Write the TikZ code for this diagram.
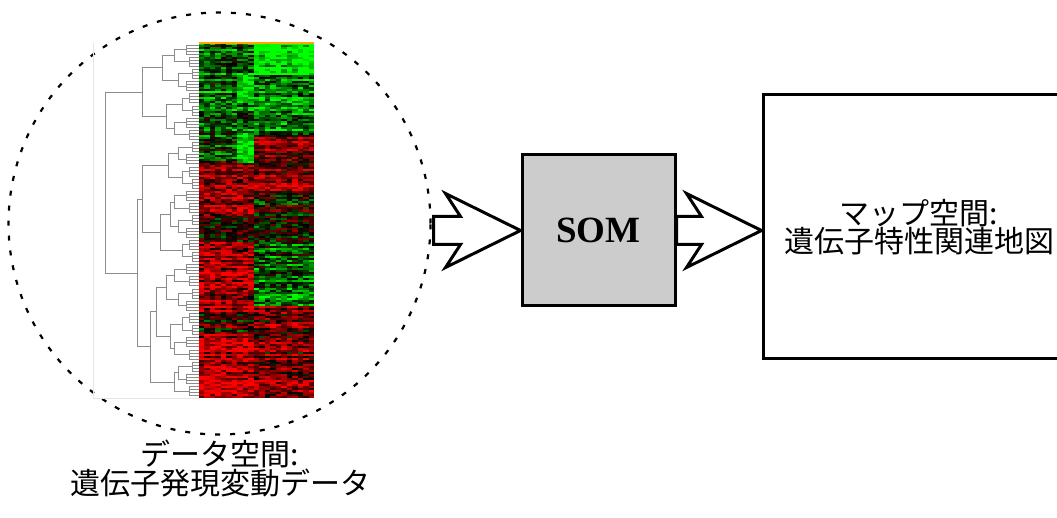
\documentclass[tikz,border=0pt]{standalone}
\usepackage{fontspec}
\setmainfont{Liberation Serif}
\newfontfamily\jpfont{Noto Sans CJK JP}
\usetikzlibrary{calc}
\tikzset{
  dendro/.style={draw=black!45, line width=0.8pt},
  fatarrow/.style={draw, line width=3pt, fill=white, line join=miter}
}
% x, y1, x1, y2, x2
\newcommand{\treejoin}[5]{%
  \draw[dendro] (#3,#2) -- (#1,#2) -- (#1,#4) -- (#5,#4);
}
\newcommand{\fatarrow}[2]{%
  \draw[fatarrow] ($(#1)+(0,-14)$) -- ($(#2)+(-60,-14)$) -- ($(#2)+(-75,-37)$)
    -- (#2) -- ($(#2)+(-75,37)$) -- ($(#2)+(-60,14)$) -- ($(#1)+(0,14)$) -- cycle;
}

\begin{document}
\begin{tikzpicture}
  [
    x=1pt, y=-1pt,
    datacircle/.style =
      {circle, draw, line width=2.2pt, dash pattern=on 5pt off 10pt,
       minimum size=422pt, inner sep=0pt},
    sombox/.style =
      {draw, line width=3pt, fill=black!20, minimum width=153pt,
       minimum height=151pt, font=\fontsize{37}{40}\selectfont\bfseries},
    mapbox/.style =
      {draw, line width=3pt, minimum width=312pt, minimum height=264pt,
       align=center, font=\jpfont\fontsize{30}{27}\selectfont},
    spacelabel/.style =
      {align=center, inner sep=0pt, font=\jpfont\fontsize{30}{29}\selectfont}
  ]
  \useasboundingbox (0,0) rectangle (1057,518);

  \node [datacircle] at (219.5,223.5) (data) {};
  \node [sombox]     at (598.5,230.5) (som)  {SOM};
  \node [mapbox]     at (919,227)     (map)  {マップ空間:\\遺伝子特性関連地図};
  \node [spacelabel] at (220,469)     (datalabel) {データ空間:\\遺伝子発現変動データ};

  % heat map
  \pgfmathsetseed{2718}
  \foreach \r in {0,...,176}{
    \pgfmathsetmacro\yy{43+\r*2.006}
    \pgfmathsetmacro\rowns{0.35*rand}
    \pgfmathsetmacro\baseL{(\yy<160) ? -0.3 : ((\yy<215) ? 0.55 : ((\yy<240) ? 0.05 :
      ((\yy<310) ? 0.6 : ((\yy<330) ? 0.1 : 0.7))))}
    \pgfmathsetmacro\baseR{(\yy<75) ? -0.95 : ((\yy<135) ? -0.45 : ((\yy<175) ? 0.45 :
      ((\yy<190) ? 0.7 : ((\yy<240) ? 0.0 : ((\yy<270) ? -0.35 : ((\yy<305) ? -0.5 : 0.4))))))}
    \foreach \c in {0,...,20}{
      \pgfmathsetmacro\xx{199+\c*5.476}
      \pgfmathsetmacro\val{((\c<10) ? \baseL : \baseR) + \rowns + 0.45*rand}
      \pgfmathsetmacro\val{(\c>6 && \c<10 && ((\yy>72 && \yy<102) || (\yy>132 && \yy<162))) ? -0.9+0.4*rand : \val}
      \pgfmathsetmacro\redv{min(max(\val,0),1)}
      \pgfmathsetmacro\grnv{min(max(0-(\val),0),1)}
      \definecolor{cellc}{rgb}{\redv,\grnv,0}
      \fill[cellc] (\xx,\yy) rectangle ++(5.55,2.08);
    }
  }
  \fill[orange!70!yellow] (199,42) rectangle (314,44);

  % dendrogram
  \draw[black!10, line width=0.6pt] (93,43) -- (93,398) -- (199,398);
  \foreach \k in {0,...,28}{
    \pgfmathsetmacro\ya{45+12.2*\k}
    \pgfmathsetmacro\xg{186+3*mod(\k,3)}
    \foreach \d in {0,3,6,9}
      \draw[dendro] (\xg,\ya+\d) -- (199,\ya+\d);
    \draw[dendro] (\xg,\ya) -- (\xg,\ya+9);
  }
  \foreach \j in {0,...,13}{
    \pgfmathsetmacro\ma{49.5+24.4*\j}
    \pgfmathsetmacro\mb{\ma+12.2}
    \pgfmathsetmacro\xp{174+4*mod(\j,3)}
    \pgfmathsetmacro\xa{186+3*mod(2*\j,3)}
    \pgfmathsetmacro\xb{186+3*mod(2*\j+1,3)}
    \treejoin{\xp}{\ma}{\xa}{\mb}{\xb}
  }
  \treejoin{162}{55.6}{174}{80.0}{178}
  \treejoin{166}{104.4}{182}{128.8}{174}
  \treejoin{142}{67.8}{162}{116.6}{166}
  \treejoin{168}{153.2}{178}{177.6}{182}
  \treejoin{170}{202.0}{174}{226.4}{178}
  \treejoin{160}{214.2}{170}{250.8}{182}
  \treejoin{142}{165.4}{168}{232.5}{160}
  \treejoin{166}{275.2}{174}{299.6}{178}
  \treejoin{170}{324.0}{182}{348.4}{174}
  \treejoin{174}{372.8}{178}{391.1}{189}
  \treejoin{156}{287.4}{166}{336.2}{170}
  \treejoin{150}{311.8}{156}{382.0}{174}
  \treejoin{137}{199.0}{142}{346.9}{150}
  \treejoin{105}{92.2}{142}{273.0}{137}

  % arrows
  \coordinate (intail) at ($(data.east |- som.west)+(2,0)$);
  \coordinate (maptip) at (map.west |- som.east);
  \fatarrow{intail}{som.west}
  \fatarrow{som.east}{maptip}

\end{tikzpicture}
\end{document}
